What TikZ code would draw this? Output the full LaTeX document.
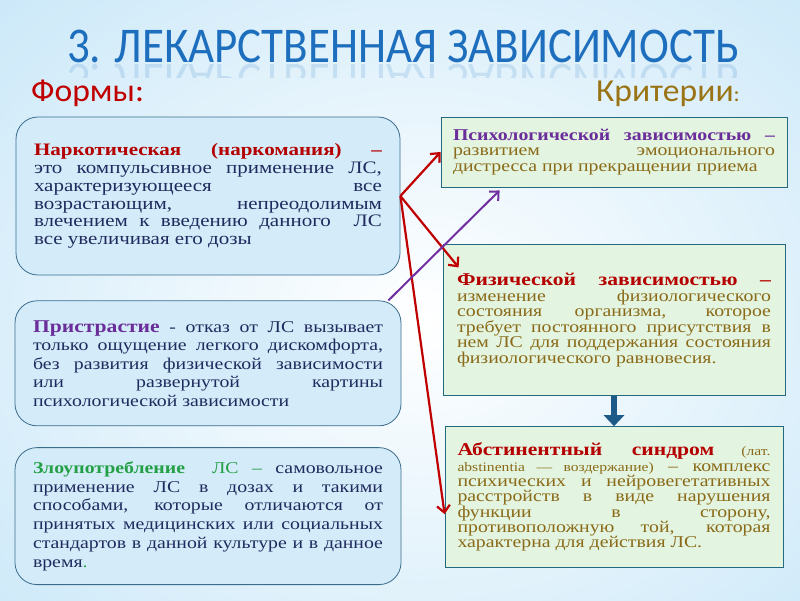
\documentclass[tikz,border=0pt]{standalone}
\usepackage{fontspec}
\setmainfont{Liberation Serif}[FakeStretch=1.2]
\newfontfamily\headfont{Carlito}[FakeStretch=0.9]
\newfontfamily\labelfont{Carlito}[FakeStretch=1.05]
\usetikzlibrary{arrows.meta, positioning, calc}

\definecolor{bgblue}{HTML}{BDE2F7}
\definecolor{titleblue}{HTML}{1E6EBE}
\definecolor{formred}{HTML}{C00000}
\definecolor{critgold}{HTML}{9A7414}
\definecolor{inkblue}{HTML}{1F2B5E}
\definecolor{boxblue}{HTML}{D4ECF9}
\definecolor{boxline}{HTML}{3C6C8C}
\definecolor{critfill}{HTML}{E3F5E0}
\definecolor{critline}{HTML}{236A80}
\definecolor{olive}{HTML}{8A6A18}
\definecolor{headred}{HTML}{B40000}
\definecolor{headviolet}{HTML}{6A2D9A}
\definecolor{headgreen}{HTML}{23A046}
\definecolor{arrowred}{HTML}{C00000}
\definecolor{arrowviolet}{HTML}{7030A0}
\definecolor{arrowblue}{HTML}{1C5A88}

\tolerance=10000

\begin{document}
\begin{tikzpicture}[x=1pt, y=-1pt,
    formbox/.style = {draw=boxline, fill=boxblue, line width=0.8pt,
      rounded corners=22pt, align=justify, text=inkblue, inner xsep=18pt,
      minimum width=384pt},
    critbox/.style = {draw=critline, fill=critfill, line width=0.8pt,
      align=justify, text=olive},
    redarrow/.style = {draw=arrowred, line width=2.2pt,
      -{Straight Barb[length=7pt, width=13pt]}},
    violetarrow/.style = {draw=arrowviolet, line width=2pt,
      -{Straight Barb[length=7pt, width=13pt]}},
    bluearrow/.style = {draw=arrowblue, line width=6pt,
      -{Triangle[length=11pt, width=20pt]}}]

  % background
  \useasboundingbox (0,0) rectangle (800,600);
  \fill[bgblue] (0,0) rectangle (800,600);
  \begin{scope}
    \clip (0,0) rectangle (800,600);
    \shade[inner color=white, outer color=bgblue] (420,320) ellipse (760 and 600);
  \end{scope}

  % headings
  \node[anchor=base, text=titleblue, font=\headfont\fontsize{50}{50}\selectfont,
        inner sep=0pt] (title) at (403,62) {3. ЛЕКАРСТВЕННАЯ ЗАВИСИМОСТЬ};
  \begin{scope}
    \clip (0,63) rectangle (800,77);
    \node[anchor=base, yscale=-1, opacity=0.15, text=titleblue,
          font=\headfont\fontsize{50}{50}\selectfont,
          inner sep=0pt] at (403,64) {3. ЛЕКАРСТВЕННАЯ ЗАВИСИМОСТЬ};
  \end{scope}
  \node[anchor=base west, text=formred, font=\labelfont\fontsize{32}{32}\selectfont,
        inner sep=0pt] (forms) at (31,101) {Формы:};
  \node[anchor=base east, text=critgold, font=\labelfont\fontsize{32}{32}\selectfont,
        inner sep=0pt] (crit) at (740,101) {Критерии{\fontsize{22}{22}\selectfont:}};

  % forms
  \node[formbox, minimum height=158pt, text width=348pt,
        font=\fontsize{17.5}{17.8}\selectfont] (narc) at (208,196)
    {{\color{headred}\bfseries Наркотическая (наркомания) –}\linebreak
     это компульсивное применение ЛС,\linebreak
     характеризующееся все\linebreak
     возрастающим, непреодолимым\linebreak
     влечением к введению данного\ \ ЛС\linebreak
     все увеличивая его дозы};
  \node[formbox, minimum height=125pt, text width=350pt,
        font=\fontsize{16.5}{18.5}\selectfont, below=25pt of narc] (pristr)
    {{\color{headviolet}\bfseries\fontsize{18}{18.5}\selectfont Пристрастие} - отказ от ЛС вызывает\linebreak
     только ощущение легкого дискомфорта,\linebreak
     без развития физической зависимости\linebreak
     или развернутой картины\linebreak
     психологической зависимости};
  \node[formbox, minimum height=137pt, text width=350pt,
        font=\fontsize{16.5}{18.8}\selectfont, below=21pt of pristr] (abuse)
    {{\color{headgreen}\bfseries Злоупотребление}\ \ {\color{headgreen}ЛС –} самовольное\linebreak
     применение ЛС в дозах и такими\linebreak
     способами, которые отличаются от\linebreak
     принятых медицинских или социальных\linebreak
     стандартов в данной культуре и в данное\linebreak
     время{\color{headgreen}.}};

  % criteria
  \node[critbox, minimum width=346pt, minimum height=70pt, text width=322pt,
        font=\fontsize{16.5}{15.3}\selectfont] (psych) at (614,152)
    {{\color{headviolet}\bfseries Психологической зависимостью –}\linebreak
     развитием эмоционального\linebreak
     дистресса при прекращении приема};
  \node[critbox, minimum width=342pt, minimum height=151pt, text width=314pt,
        font=\fontsize{16.5}{15.5}\selectfont, below=57pt of psych] (phys)
    {{\color{headred}\bfseries\fontsize{18}{17}\selectfont Физической зависимостью –}\linebreak
     изменение физиологического\linebreak
     состояния организма, которое\linebreak
     требует постоянного присутствия в\linebreak
     нем ЛС для поддержания состояния\linebreak
     физиологического равновесия.};
  \node[critbox, minimum width=338pt, minimum height=141pt, text width=313pt,
        font=\fontsize{16.5}{15.3}\selectfont, below=30pt of phys] (abst)
    {{\color{headred}\bfseries\fontsize{18}{17}\selectfont Абстинентный синдром}
     {\fontsize{13}{12}\selectfont (лат.}\linebreak
     {\fontsize{13}{12}\selectfont abstinentia — воздержание)} – комплекс\linebreak
     психических и нейровегетативных\linebreak
     расстройств в виде нарушения\linebreak
     функции в сторону,\linebreak
     противоположную той, которая\linebreak
     характерна для действия ЛС.};

  % connectors
  \coordinate (physin) at ($(phys.north west)+(16,23)$);
  \coordinate (abstin) at ($(abst.west)+(0,17)$);
  \coordinate (pristrout) at ($(pristr.north east)+(-13,0)$);
  \coordinate (psychin) at ($(psych.south west)+(59,3)$);
  \draw[redarrow] (narc.east) -- (psych.west);
  \draw[redarrow] (narc.east) -- (physin);
  \draw[redarrow] (narc.east) -- (abstin);
  \draw[violetarrow] (pristrout) -- (psychin);
  \draw[bluearrow] (phys.south) -- (phys.south |- abst.north);
\end{tikzpicture}
\end{document}
